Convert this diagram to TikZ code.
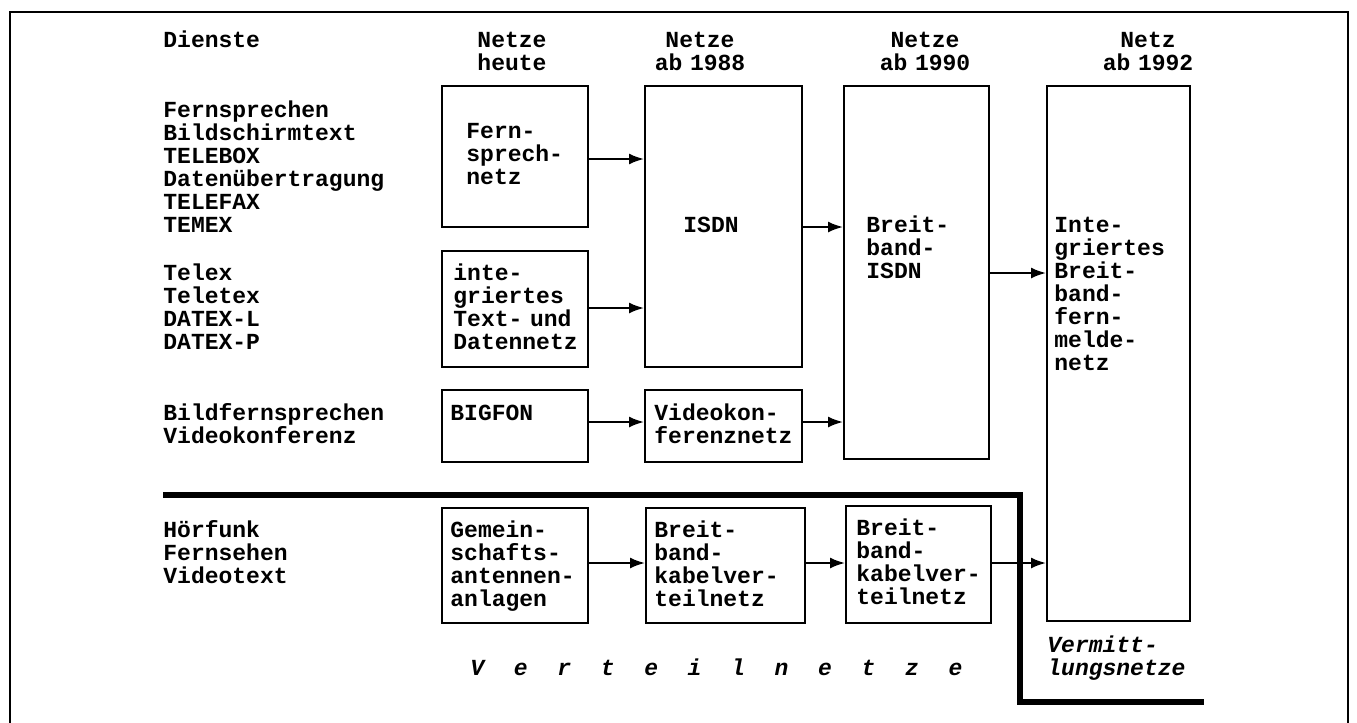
\documentclass[tikz,border=0pt]{standalone}
\usepackage{fontspec}
\newfontfamily\dotfont{Liberation Mono}
\usetikzlibrary{arrows.meta,fit}

\begin{document}
\begin{tikzpicture}[x=0.5pt,y=-0.5pt,
  >={Latex[length=7.5pt,width=5.5pt]},
  every node/.style={font=\dotfont\bfseries\fontsize{11.5}{11.5}\selectfont,inner sep=0pt},
  netbox/.style={draw,line width=1pt},
  txt/.style={anchor=base west,text width=72pt,align=left},
  head/.style={anchor=base,text width=60pt,align=center},
  slant/.style={font=\dotfont\bfseries\itshape\fontsize{11.5}{11.5}\selectfont},
  flow/.style={->,line width=1pt},
  divider/.style={line width=3pt}]
  \useasboundingbox (0,0) rectangle (1357,723);
  % frame, open at the bottom
  \draw[line width=1pt] (10,723) -- (10,12) -- (1348,12) -- (1348,723);

  % column heads
  \node[txt] (dienste) at (163,47) {Dienste};
  \node[head] (heute) at (512,47) {Netze\\heute};
  \node[head] (ab88) at (700,47) {Netze\\ab 1988};
  \node[head] (ab90) at (925,47) {Netze\\ab 1990};
  \node[head] (ab92) at (1148,47) {Netz\\ab 1992};

  % services
  \node[txt] (dienst1) at (163,117)
    {Fernsprechen\\Bildschirmtext\\TELEBOX\\Datenübertragung\\TELEFAX\\TEMEX};
  \node[txt] (dienst2) at (163,280) {Telex\\Teletex\\DATEX-L\\DATEX-P};
  \node[txt] (dienst3) at (163,420) {Bildfernsprechen\\Videokonferenz};
  \node[txt] (dienst4) at (163,537) {Hörfunk\\Fernsehen\\Videotext};

  % networks today
  \node[netbox,fit={(442,86) (588,227)}] (fern) {};
  \node[txt] (fernT) at (466,138) {Fern-\\sprech-\\netz};
  \node[netbox,fit={(442,251) (588,367)}] (idn) {};
  \node[txt] (idnT) at (453,280) {inte-\\griertes\\Text- und\\Datennetz};
  \node[netbox,fit={(442,390) (588,462)}] (bigfon) {};
  \node[txt] (bigfonT) at (450,420) {BIGFON};
  \node[netbox,fit={(442,508) (588,623)}] (gaa) {};
  \node[txt] (gaaT) at (450,537) {Gemein-\\schafts-\\antennen-\\anlagen};

  % networks from 1988
  \node[netbox,fit={(645,86) (802,367)}] (isdn) {};
  \node[txt] (isdnT) at (683,232) {ISDN};
  \node[netbox,fit={(645,390) (802,462)}] (vkn) {};
  \node[txt] (vknT) at (654,420) {Videokon-\\ferenznetz};
  \node[netbox,fit={(646,508) (805,623)}] (bkvA) {};
  \node[txt] (bkvAT) at (654,537) {Breit-\\band-\\kabelver-\\teilnetz};

  % networks from 1990
  \node[netbox,fit={(844,86) (989,459)}] (bisdn) {};
  \node[txt] (bisdnT) at (866,232) {Breit-\\band-\\ISDN};
  \node[netbox,fit={(846,506) (991,623)}] (bkvB) {};
  \node[txt] (bkvBT) at (856,535) {Breit-\\band-\\kabelver-\\teilnetz};

  % network from 1992
  \node[netbox,fit={(1047,86) (1190,621)}] (ibfn) {};
  \node[txt] (ibfnT) at (1054,232)
    {Inte-\\griertes\\Breit-\\band-\\fern-\\melde-\\netz};

  % boundary between switched and distribution networks
  \coordinate (dvA) at (163,495);
  \coordinate (dvB) at (1020,495);
  \coordinate (dvC) at (1020,702);
  \coordinate (dvD) at (1204,702);
  \draw[divider] (dvA) -- (dvB) -- (dvC) -- (dvD);

  \draw[flow] (fern.east |- 0,159) -- (isdn.west |- 0,159);
  \draw[flow] (idn.east |- 0,308) -- (isdn.west |- 0,308);
  \draw[flow] (isdn.east |- 0,227) -- (bisdn.west |- 0,227);
  \draw[flow] (bisdn.east |- 0,273) -- (ibfn.west |- 0,273);
  \draw[flow] (bigfon.east |- 0,422) -- (vkn.west |- 0,422);
  \draw[flow] (vkn.east |- 0,422) -- (bisdn.west |- 0,422);
  \draw[flow] (gaa.east |- 0,563) -- (bkvA.west |- 0,563);
  \draw[flow] (bkvA.east |- 0,563) -- (bkvB.west |- 0,563);
  \draw[flow] (bkvB.east |- 0,563) -- (ibfn.west |- 0,563);

  \node[slant,anchor=base west] (verteil) at (470,675)
    {\addfontfeature{LetterSpace=129}Verteilnetze};
  \node[txt,slant] (vermitt) at (1047,652) {Vermitt-\\lungsnetze};
\end{tikzpicture}
\end{document}
